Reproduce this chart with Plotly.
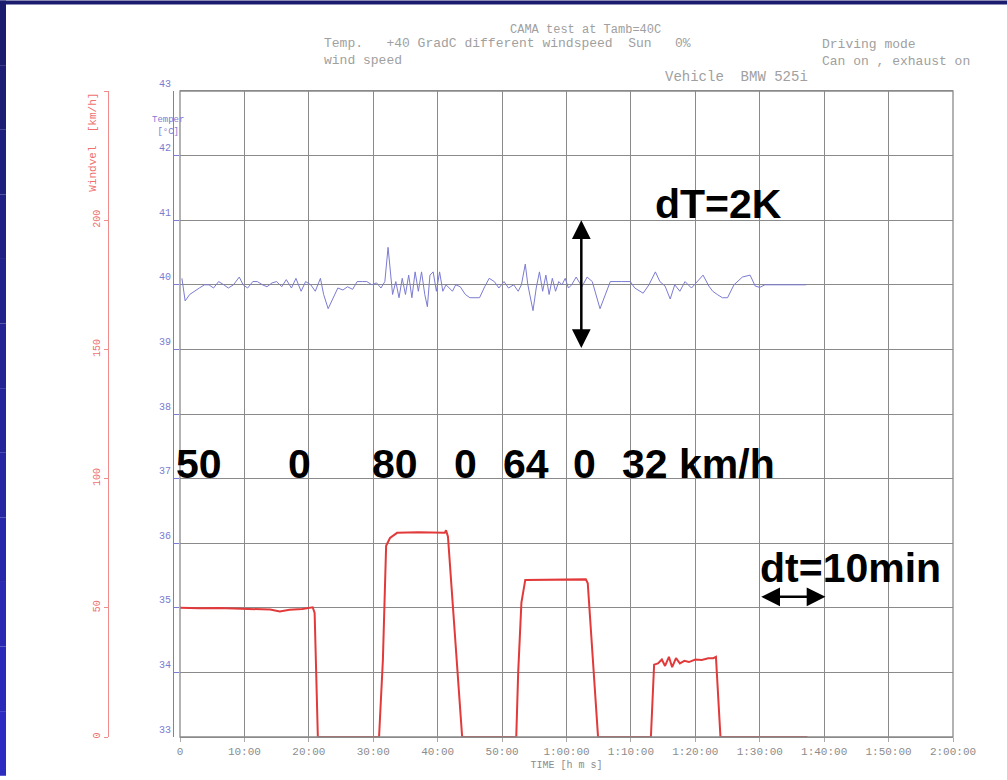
import plotly.graph_objects as go

# ---------------- data ----------------
# time in minutes, wind speed in km/h (red)
speed_time = [0, 3, 6, 9, 12, 14, 15.5, 17, 19, 20.6, 20.9, 21.4, 25, 30.9, 31.5, 32.0, 32.6, 33.7,
              37, 41.1, 41.3, 41.6, 43.8, 48, 52.2, 52.5, 53.0, 53.6, 58, 63.0, 63.3, 64.9,
              70, 73.1, 73.6, 74.2, 74.8, 75.3, 75.9, 76.4, 77.0, 77.6, 78.3, 79.0, 80.0,
              81.0, 82.0, 82.8, 83.2, 83.9, 90, 97.4]
speed_vals = [50, 49.8, 49.9, 49.6, 49.4, 49.3, 48.6, 49.2, 49.5, 50.2, 48, 0, 0, 0, 30, 74, 77, 79.0,
              79.2, 79.0, 80.0, 77.5, 0, 0, 0, 25, 52, 60.8, 61, 61, 59.5, 0,
              0, 0, 28, 28.5, 30, 27.5, 31, 27, 30.5, 28.5, 29.5, 29, 30,
              29.8, 30.5, 30.5, 31, 0, 0, 0]

# time in minutes, cabin temperature in degC (blue)
temp_time = [0.3, 0.8, 1.5, 2.2, 3.0, 3.8, 4.5, 5.2, 6.0, 6.8, 7.5, 8.3, 9.2, 9.8, 10.5, 11.3, 12.0,
             12.8, 13.5, 14.3, 15.0, 15.8, 16.5, 17.3, 18.0, 18.8, 19.5, 20.3, 21.0, 21.8, 22.3,
             23.0, 23.8, 24.5, 25.3, 26.0, 26.8, 27.5, 28.3, 29.0, 29.8, 30.5, 31.2, 31.8, 32.3,
             32.6, 33.0, 33.5, 34.0, 34.5, 35.0, 35.5, 36.0, 36.5, 37.0, 37.5, 38.0, 38.4, 38.8,
             39.3, 39.8, 40.3, 40.8, 41.3, 41.8, 42.3, 42.8, 43.5, 44.3, 45.0, 45.8, 46.5, 47.3,
             48.0, 48.8, 49.5, 50.3, 51.0, 51.8, 52.5, 53.0, 53.6, 54.0, 54.8, 55.3, 55.8, 56.3,
             56.8, 57.3, 57.8, 58.3, 58.8, 59.3, 59.8, 60.3, 60.8, 61.5, 62.4, 63.2, 64.0, 65.2,
             66.8, 68.5, 69.9, 70.6, 71.9, 72.8, 73.8, 74.5, 75.3, 76.1, 76.8, 77.6, 78.4, 79.4,
             80.3, 81.2, 82.1, 82.7, 83.4, 84.2, 85.0, 86.0, 87.3, 88.5, 89.3, 90.0, 90.8, 92.0,
             94.0, 96.0, 97.2]
temp_vals = [40.10, 39.75, 39.85, 39.90, 39.95, 40.00, 40.00, 39.95, 40.05, 40.00, 39.95, 40.00, 40.12,
             40.00, 39.95, 40.05, 40.05, 40.00, 39.97, 40.03, 40.05, 39.97, 40.08, 39.95, 40.10,
             39.90, 40.05, 40.00, 39.90, 40.10, 39.85, 39.63, 39.80, 39.95, 39.92, 39.97, 39.93,
             40.05, 40.05, 40.05, 40.00, 40.03, 39.95, 40.05, 40.58, 40.25, 39.85, 40.05, 39.80,
             40.10, 39.85, 40.15, 39.80, 40.20, 39.90, 40.20, 39.85, 39.66, 40.15, 40.20, 39.90,
             40.20, 39.90, 40.00, 39.95, 39.90, 40.00, 39.97, 39.85, 39.80, 39.80, 39.80, 39.97,
             40.10, 40.05, 39.95, 40.05, 39.95, 40.00, 39.90, 40.00, 40.32, 40.00, 39.60, 39.95,
             40.20, 39.90, 40.15, 39.85, 40.10, 39.90, 40.05, 40.00, 40.10, 39.95, 40.00, 40.12,
             39.97, 40.12, 40.05, 39.63, 40.05, 40.05, 40.05, 39.95, 39.87, 40.00, 40.20, 40.05,
             39.98, 39.78, 40.00, 39.90, 40.05, 39.95, 40.05, 40.15, 39.98, 39.90, 39.85, 39.80,
             39.80, 40.00, 40.12, 40.15, 39.98, 39.96, 40.00, 40.00, 40.00, 39.99, 40.00]

x_tickvals = [0, 10, 20, 30, 40, 50, 60, 70, 80, 90, 100, 110, 120]
x_ticktext = ["0", "10:00", "20:00", "30:00", "40:00", "50:00", "1:00:00", "1:10:00",
              "1:20:00", "1:30:00", "1:40:00", "1:50:00", "2:00:00"]
temp_ticks = [33, 34, 35, 36, 37, 38, 39, 40, 41, 42, 43]
speed_tickvals = [0, 50, 100, 150, 200, 250]
speed_ticktext = ["0", "50", "100", "150", "200", ""]

speed_labels = ["50", "0", "80", "0", "64", "0", "32 km/h"]

# ---------------- layout helpers ----------------
W, H = 1007, 780
L, R, T, B = 40, 54, 91, 39


def px(x):
    return (x - L) / (W - L - R)


def py(y):
    return (H - B - y) / (H - T - B)


GRID = "#8a8a8a"
BLUE = "#7b7bd2"
RED = "#e23a3a"
TXT = "#8c8c8c"
MONO = "Liberation Mono, DejaVu Sans Mono, monospace"
BOLD = "Liberation Sans, Arial, sans-serif"
BIG = 41

fig = go.Figure()

fig.add_trace(go.Scatter(x=temp_time, y=temp_vals, mode="lines", yaxis="y",
                         line=dict(color=BLUE, width=1), showlegend=False))
fig.add_trace(go.Scatter(x=speed_time, y=speed_vals, mode="lines", yaxis="y2",
                         line=dict(color=RED, width=2), showlegend=False))

fig.update_layout(
    width=W, height=H,
    margin=dict(l=L, r=R, t=T, b=B, pad=0),
    paper_bgcolor="white", plot_bgcolor="white",
    xaxis=dict(domain=[px(180), 1], range=[0, 120], tickvals=x_tickvals, ticktext=x_ticktext,
               showgrid=True, gridcolor=GRID, gridwidth=1.3, zeroline=False,
               showline=True, linecolor=GRID, linewidth=1.3, mirror=True,
               ticks="outside", ticklen=4, tickcolor="#aaaaaa",
               tickfont=dict(family=MONO, size=11, color=TXT),
               title=dict(text="TIME [h m s]", font=dict(family=MONO, size=10, color=TXT), standoff=3)),
    yaxis=dict(range=[33, 43], tickvals=temp_ticks, anchor="free", position=px(173),
               showgrid=True, gridcolor=GRID, gridwidth=1.3, zeroline=False,
               showline=True, linecolor=BLUE, linewidth=1,
               ticks="inside", ticklen=5, tickcolor=BLUE,
               tickfont=dict(family=MONO, size=10, color=BLUE), ticklabelshift=-8),
    yaxis2=dict(range=[0, 250], overlaying="y", anchor="free", position=px(108), side="left",
                tickvals=speed_tickvals, ticktext=speed_ticktext, tickangle=-90,
                showgrid=False, zeroline=False, showline=True, linecolor="#f08c8c", linewidth=1.2,
                ticks="outside", ticklen=4, tickcolor="#f08c8c",
                tickfont=dict(family=MONO, size=10, color="#ef6f6f")),
)

# plot frame
fig.add_shape(type="rect", xref="x domain", yref="y domain", x0=0, x1=1, y0=0, y1=1,
              line=dict(color=GRID, width=1.3), layer="above")

# slide border (dark blue)
fig.add_shape(type="rect", xref="paper", yref="paper", x0=px(0), x1=px(W), y0=py(4), y1=py(0),
              line=dict(width=0), fillcolor="#1c1c6e", layer="above")
n = 12
for i in range(n):
    y0 = i * H / n
    y1 = (i + 1) * H / n
    f = i / (n - 1)
    r = int(0x1c + (0x2c - 0x1c) * f)
    g = int(0x1c + (0x2c - 0x1c) * f)
    b = int(0x6e + (0xc0 - 0x6e) * f)
    fig.add_shape(type="rect", xref="paper", yref="paper", x0=px(0), x1=px(6), y0=py(y1), y1=py(y0),
                  line=dict(width=0), fillcolor=f"rgb({r},{g},{b})", layer="above")

# header texts
hdr = [
    ("CAMA test at Tamb=40C", 508, 30, 12),
    ("Temp.   +40 GradC different windspeed  Sun   0%<br>wind speed", 322, 52, 13),
    ("Driving mode<br>Can on , exhaust on", 820, 53, 13),
    ("Vehicle  BMW 525i", 663, 77, 14),
]
for txt, x, y, s in hdr:
    fig.add_annotation(text=txt, xref="paper", yref="paper", x=px(x), y=py(y), xanchor="left",
                       yanchor="middle", showarrow=False, align="left",
                       font=dict(family=MONO, size=s, color="#a0a0a0"))

# axis titles
fig.add_annotation(text="Temper<br>[°C]", xref="paper", yref="paper", x=px(150), y=py(113),
                   showarrow=False, font=dict(family=MONO, size=9, color=BLUE), align="center")
fig.add_annotation(text="Windvel  [km/h]", xref="paper", yref="paper", x=px(93), y=py(143),
                   xanchor="center", yanchor="middle",
                   textangle=-90, showarrow=False, font=dict(family=MONO, size=11, color="#ef6f6f"))

# big annotations
fig.add_annotation(text="<b>dT=2K</b>", xref="paper", yref="paper", x=px(653), y=py(205),
                   xanchor="left", yanchor="middle", showarrow=False,
                   font=dict(family=BOLD, size=BIG, color="black"))
fig.add_annotation(text="<b>dt=10min</b>", xref="paper", yref="paper", x=px(758), y=py(571),
                   xanchor="left", yanchor="middle", showarrow=False,
                   font=dict(family=BOLD, size=BIG, color="black"))
label_x = [174, 286, 370, 452, 501, 571, 620]
for txt, x in zip(speed_labels, label_x):
    fig.add_annotation(text=f"<b>{txt}</b>", xref="paper", yref="paper", x=px(x), y=py(466),
                       xanchor="left", yanchor="middle", showarrow=False,
                       font=dict(family=BOLD, size=BIG, color="black"))

# double arrows
fig.add_annotation(x=62.3, y=41, ax=62.3, ay=39, xref="x", yref="y", axref="x", ayref="y",
                   text="", showarrow=True, arrowhead=2, arrowside="end+start",
                   arrowwidth=2.5, arrowsize=1.5, arrowcolor="black")
fig.add_annotation(x=100.2, y=35.17, ax=90.0, ay=35.17, xref="x", yref="y", axref="x", ayref="y",
                   text="", showarrow=True, arrowhead=2, arrowside="end+start",
                   arrowwidth=2.5, arrowsize=1.5, arrowcolor="black")

fig.write_html("out.html")
